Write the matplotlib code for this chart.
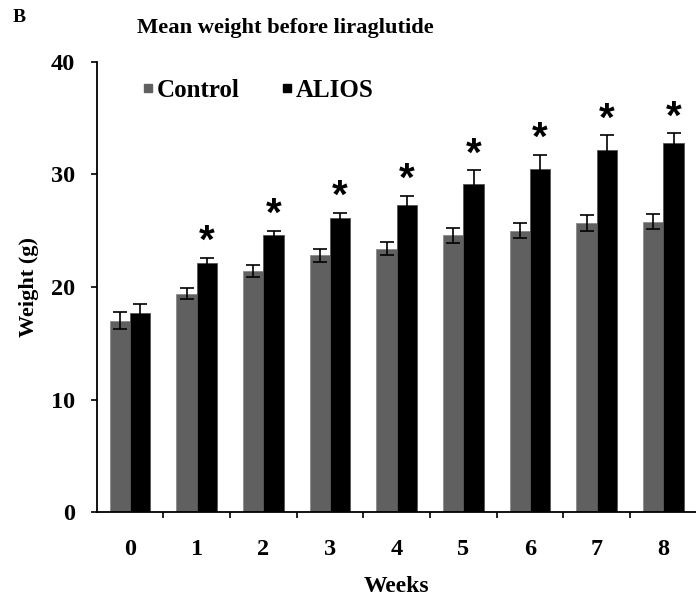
import matplotlib
matplotlib.use("Agg")
import matplotlib.pyplot as plt
import numpy as np
from matplotlib.lines import Line2D

weeks = ["0", "1", "2", "3", "4", "5", "6", "7", "8"]
control = [17.0, 19.4, 21.4, 22.8, 23.4, 24.6, 25.0, 25.7, 25.8]
control_err = [0.75, 0.5, 0.55, 0.55, 0.6, 0.65, 0.65, 0.7, 0.65]
alios = [17.7, 22.1, 24.6, 26.15, 27.3, 29.1, 30.45, 32.2, 32.8]
alios_err = [0.8, 0.5, 0.4, 0.45, 0.8, 1.25, 1.3, 1.25, 0.85]
significant = [False, True, True, True, True, True, True, True, True]
yticks = [0, 10, 20, 30, 40]

serif = "Liberation Serif"
plt.rcParams["font.family"] = [serif, "DejaVu Serif"]

fig = plt.figure(figsize=(6.96, 6.05), dpi=100)
ax = fig.add_axes([96.7 / 696, 1 - 512.3 / 605, 600 / 696, (512.3 - 61.7) / 605])

x = np.arange(len(weeks))
w = 0.305
gray = "#606060"
ax.bar(x - w / 2, control, w, color=gray, edgecolor="#8a8a8a", linewidth=0.6, zorder=2)
ax.bar(x + w / 2, alios, w, color="black", edgecolor="#555555", linewidth=0.6, zorder=2)
ax.errorbar(x - w / 2, control, yerr=control_err, fmt="none", ecolor="black",
            elinewidth=1.2, capsize=5, capthick=1.2, zorder=3)
ax.errorbar(x + w / 2, alios, yerr=alios_err, fmt="none", ecolor="black",
            elinewidth=1.2, capsize=5, capthick=1.2, zorder=3)

for xi, v, e, s in zip(x, alios, alios_err, significant):
    if s:
        ax.text(xi + w / 2, v + e - 0.3, "*", ha="center", va="bottom",
                fontsize=29, fontweight="bold", family="Liberation Sans")

ax.set_xlim(-0.5, len(weeks) - 0.5)
ax.set_ylim(0, 40)
ax.set_yticks(yticks)
ax.set_yticklabels([str(t) for t in yticks], fontsize=17.5, fontweight="bold")
ax.set_xticks(x)
ax.set_xticklabels(weeks, fontsize=17.5, fontweight="bold")
ax.set_xticks(np.arange(len(weeks)) + 0.5, minor=True)
ax.tick_params(axis="x", which="major", length=0, pad=19)
ax.tick_params(axis="x", which="minor", length=4.5, width=1.2, direction="out")
ax.tick_params(axis="y", length=4.5, width=1.2, direction="out", pad=11)

for side in ["top", "right"]:
    ax.spines[side].set_visible(False)
for side in ["left", "bottom"]:
    ax.spines[side].set_linewidth(1.3)

ax.set_xlabel("Weeks", fontsize=17, fontweight="bold")
ax.xaxis.set_label_coords(0.5, (512.3 - 586) / 450.6)
ax.xaxis.label.set_va("center")
ax.set_ylabel("Weight (g)", fontsize=16, fontweight="bold")
ax.yaxis.set_label_coords((29 - 96.7) / 600, (512.3 - 287) / 450.6)
ax.yaxis.label.set_va("center")

handles = [Line2D([], [], marker="s", ls="", color=gray, markersize=5.5),
           Line2D([], [], marker="s", ls="", color="black", markersize=5.5)]
ax.legend(handles, ["Control", "ALIOS"], loc="center left",
          bbox_to_anchor=(0.075, 0.937), ncol=2, frameon=False,
          prop={"family": serif, "weight": "bold", "size": 18},
          handlelength=0.5, handletextpad=0.1, columnspacing=1.65,
          borderpad=0, borderaxespad=0)

fig.text(285 / 696, 1 - 28 / 605, "Mean weight before liraglutide", ha="center",
         va="center", fontsize=16.2, fontweight="bold")
fig.text(13 / 696, 1 - 18 / 605, "B", ha="left", va="center",
         fontsize=14, fontweight="bold")

fig.savefig("out.png", dpi=100)
